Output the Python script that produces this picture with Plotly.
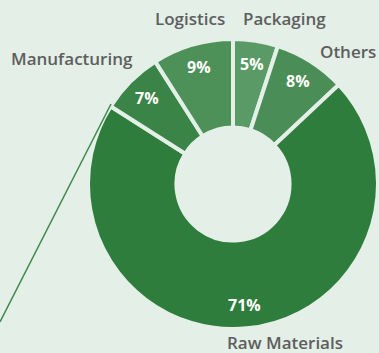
import math
import plotly.graph_objects as go

categories = ["Packaging", "Others", "Raw Materials", "Manufacturing", "Logistics"]
values = [5, 8, 71, 7, 9]
colors = ["#5a9a66", "#4b8d57", "#2f7d3c", "#3a8447", "#4d9159"]
pct_labels = ["5%", "8%", "71%", "7%", "9%"]

W, H = 379, 353
BG = "#e3efe7"
CX, CY, R = 233, 184, 145          # pie centre / radius in pixels
dom_x = [(CX - R) / W, (CX + R) / W]
dom_y = [1 - (CY + R) / H, 1 - (CY - R) / H]

fig = go.Figure()
fig.add_trace(go.Pie(
    labels=categories, values=values, sort=False, direction="clockwise", rotation=0,
    hole=0.39, domain=dict(x=dom_x, y=dom_y),
    marker=dict(colors=colors, line=dict(color=BG, width=4)),
    textinfo="none", hoverinfo="label+percent", showlegend=False,
))

annotations = []
# percentage labels, placed at the mid-angle of each slice
total = sum(values)
cum = 0
for v, t in zip(values, pct_labels):
    mid = (cum + v / 2) / total * 2 * math.pi
    cum += v
    rr = 0.84 * R
    px = CX + rr * math.sin(mid)
    py = CY - rr * math.cos(mid)
    annotations.append(dict(x=px / W, y=1 - py / H, xref="paper", yref="paper",
                            text=t, showarrow=False, xanchor="center", yanchor="middle",
                            font=dict(family="Open Sans", size=16, color="white", weight="bold")))

# category name labels (outside the ring)
name_pos = {
    "Manufacturing": (72, 59),
    "Logistics": (190, 18),
    "Packaging": (284, 19),
    "Others": (348, 52),
    "Raw Materials": (285, 342),
}
for name in categories:
    px, py = name_pos[name]
    annotations.append(dict(x=px / W, y=1 - py / H, xref="paper", yref="paper",
                            text=name, showarrow=False, xanchor="center", yanchor="middle",
                            font=dict(family="Open Sans", size=17, color="#5e5e5e", weight=600)))

fig.update_layout(
    width=W, height=H,
    margin=dict(l=0, r=0, t=0, b=0),
    paper_bgcolor=BG, plot_bgcolor=BG,
    annotations=annotations,
    shapes=[dict(type="line", xref="paper", yref="paper",
                 x0=0.0, y0=1 - 322 / H, x1=111 / W, y1=1 - 104 / H,
                 line=dict(color="#3f8a4a", width=1.5))],
)
fig.write_html("out.html", config={"displayModeBar": False},
               post_script="document.body.style.margin='0';document.body.style.overflow='hidden';")
